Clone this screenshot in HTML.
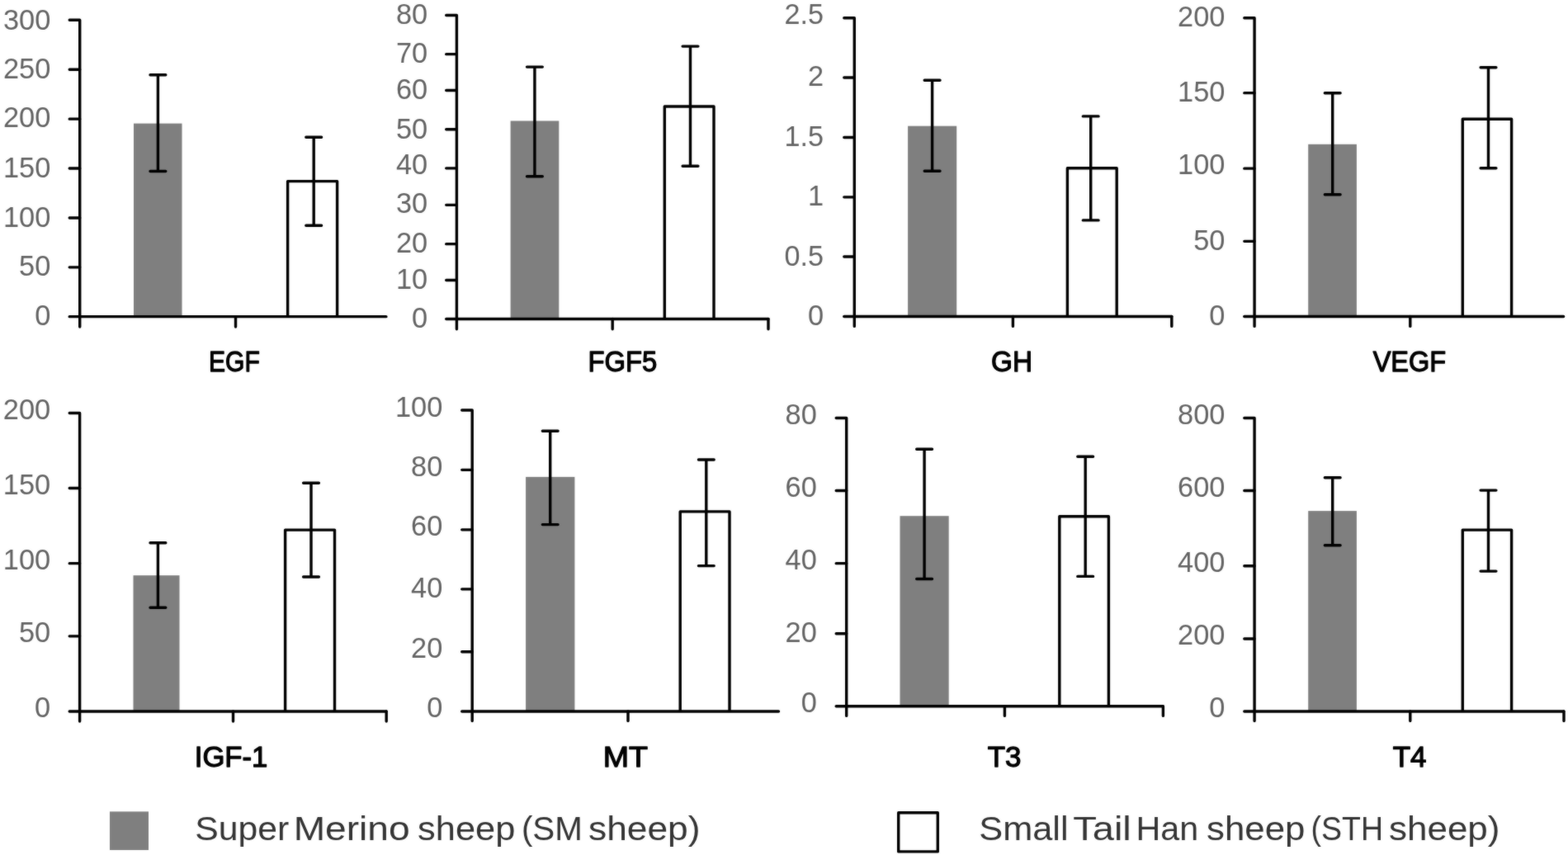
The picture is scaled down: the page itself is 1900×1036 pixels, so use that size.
<!DOCTYPE html>
<html lang="en"><head><meta charset="utf-8"><title>Serum hormone and growth factor levels in SM and STH sheep</title>
<style>
html,body{margin:0;padding:0;background:#fff;}
body{width:1900px;height:1036px;overflow:hidden;}
svg{display:block;}
text{font-family:"Liberation Sans",Arial,Helvetica,sans-serif;}
.ax{stroke:#000;stroke-width:3.4;fill:none;stroke-linecap:round;stroke-linejoin:round;}
.eb{stroke:#000;stroke-width:3.4;fill:none;stroke-linecap:round;}
.gb{fill:#7f7f7f;}
.wb{fill:#fff;stroke:#000;stroke-width:3.4;stroke-linejoin:round;}
.tl{font-size:35.5px;fill:#636363;text-anchor:end;}
.tt{font-size:35.4px;font-weight:normal;fill:#000;stroke:#000;stroke-width:1.3px;stroke-linejoin:round;}
.lg{font-size:40.5px;fill:#333333;}
</style></head><body>
<svg width="1900" height="1036" viewBox="0 0 1900 1036">
<defs><filter id="soft" x="0" y="0" width="1900" height="1036" filterUnits="userSpaceOnUse" color-interpolation-filters="sRGB"><feGaussianBlur stdDeviation="0.9" result="b"/><feComposite in="SourceGraphic" in2="b" operator="arithmetic" k1="0" k2="0.65" k3="0.35" k4="0"/></filter></defs>
<rect x="0" y="0" width="1900" height="1036" fill="#fff"/>
<g filter="url(#soft)">
<rect x="-10" y="-10" width="1920" height="1056" fill="#fff"/>
<g>
<rect class="gb" x="162" y="149.6" width="58.5" height="234.05"/>
<path class="wb" d="M348.6 383.65V219.6H408.6V383.65"/>
<path class="ax" d="M84.2 24.25H96.7V396"/>
<path class="ax" d="M84.2 383.65H467.9"/>
<path class="ax" d="M84.2 323.85H96.7M84.2 263.95H96.7M84.2 204.05H96.7M84.2 144.15H96.7M84.2 84.25H96.7"/>
<path class="ax" d="M285.5 383.65V396"/>
<path class="eb" d="M191.4 90.7V207.5M182 90.7H200.8M182 207.5H200.8"/>
<path class="eb" d="M380.2 166.3V273.3M370.8 166.3H389.6M370.8 273.3H389.6"/>
<text class="tl" x="61.3" y="393.6" textLength="19.1" lengthAdjust="spacingAndGlyphs">0</text>
<text class="tl" x="61.3" y="334.2" textLength="38.2" lengthAdjust="spacingAndGlyphs">50</text>
<text class="tl" x="61.3" y="274.6" textLength="57.3" lengthAdjust="spacingAndGlyphs">100</text>
<text class="tl" x="61.3" y="215.1" textLength="57.3" lengthAdjust="spacingAndGlyphs">150</text>
<text class="tl" x="61.3" y="154.4" textLength="57.3" lengthAdjust="spacingAndGlyphs">200</text>
<text class="tl" x="61.3" y="95.2" textLength="57.3" lengthAdjust="spacingAndGlyphs">250</text>
<text class="tl" x="61.3" y="35.8" textLength="57.3" lengthAdjust="spacingAndGlyphs">300</text>
<text class="tt" x="252.99" y="450.3" textLength="61.76" lengthAdjust="spacingAndGlyphs">EGF</text>
</g>
<g>
<rect class="gb" x="618.6" y="146.5" width="58.7" height="240.05"/>
<path class="wb" d="M805.3 386.55V129H865V386.55"/>
<path class="ax" d="M540.7 18.55H553.4V398.8"/>
<path class="ax" d="M540.7 386.55H931"/>
<path class="ax" d="M540.7 339.55H553.4M540.7 295.65H553.4M540.7 248.35H553.4M540.7 203.85H553.4M540.7 156.75H553.4M540.7 109.55H553.4M540.7 65.65H553.4"/>
<path class="ax" d="M742.2 386.55V398.8M931 386.55V398.8"/>
<path class="eb" d="M647.9 81.1V213.7M638.5 81.1H657.3M638.5 213.7H657.3"/>
<path class="eb" d="M836.5 56.1V201.2M827.1 56.1H845.9M827.1 201.2H845.9"/>
<text class="tl" x="518.1" y="397.1" textLength="19.1" lengthAdjust="spacingAndGlyphs">0</text>
<text class="tl" x="518.1" y="350.1" textLength="38.2" lengthAdjust="spacingAndGlyphs">10</text>
<text class="tl" x="518.1" y="305.9" textLength="38.2" lengthAdjust="spacingAndGlyphs">20</text>
<text class="tl" x="518.1" y="258" textLength="38.2" lengthAdjust="spacingAndGlyphs">30</text>
<text class="tl" x="518.1" y="211.3" textLength="38.2" lengthAdjust="spacingAndGlyphs">40</text>
<text class="tl" x="518.1" y="167.7" textLength="38.2" lengthAdjust="spacingAndGlyphs">50</text>
<text class="tl" x="518.1" y="119.8" textLength="38.2" lengthAdjust="spacingAndGlyphs">60</text>
<text class="tl" x="518.1" y="76.2" textLength="38.2" lengthAdjust="spacingAndGlyphs">70</text>
<text class="tl" x="518.1" y="28.85" textLength="38.2" lengthAdjust="spacingAndGlyphs">80</text>
<text class="tt" x="712.52" y="450.3" textLength="83.77" lengthAdjust="spacingAndGlyphs">FGF5</text>
</g>
<g>
<rect class="gb" x="1100.1" y="152.7" width="59.1" height="230.85"/>
<path class="wb" d="M1293.4 383.55V203.7H1353.2V383.55"/>
<path class="ax" d="M1022.8 21.75H1035.3V395.4"/>
<path class="ax" d="M1022.8 383.55H1419.8"/>
<path class="ax" d="M1022.8 311.05H1035.3M1022.8 238.85H1035.3M1022.8 166.5H1035.3M1022.8 93.95H1035.3"/>
<path class="ax" d="M1227.4 383.55V395.4M1419.8 383.55V395.4"/>
<path class="eb" d="M1129.6 97.2V207.3M1120.2 97.2H1139M1120.2 207.3H1139"/>
<path class="eb" d="M1321.7 140.9V266.9M1312.3 140.9H1331.1M1312.3 266.9H1331.1"/>
<text class="tl" x="998.1" y="393.6" textLength="19.1" lengthAdjust="spacingAndGlyphs">0</text>
<text class="tl" x="998.1" y="321.6" textLength="47.5" lengthAdjust="spacingAndGlyphs">0.5</text>
<text class="tl" x="998.1" y="249.2" textLength="19.1" lengthAdjust="spacingAndGlyphs">1</text>
<text class="tl" x="998.1" y="177.2" textLength="47.5" lengthAdjust="spacingAndGlyphs">1.5</text>
<text class="tl" x="998.1" y="104.4" textLength="19.1" lengthAdjust="spacingAndGlyphs">2</text>
<text class="tl" x="998.1" y="29.1" textLength="47.5" lengthAdjust="spacingAndGlyphs">2.5</text>
<text class="tt" x="1201.02" y="450.3" textLength="49.98" lengthAdjust="spacingAndGlyphs">GH</text>
</g>
<g>
<rect class="gb" x="1585.2" y="174.8" width="58.7" height="208.75"/>
<path class="wb" d="M1772.3 383.55V144.3H1831.6V383.55"/>
<path class="ax" d="M1507.8 21.75H1520.1V395.4"/>
<path class="ax" d="M1507.8 383.55H1894.6"/>
<path class="ax" d="M1507.8 292.35H1520.1M1507.8 204.15H1520.1M1507.8 112.65H1520.1"/>
<path class="ax" d="M1708.8 383.55V395.4"/>
<path class="eb" d="M1614.7 112.7V235.8M1605.3 112.7H1624.1M1605.3 235.8H1624.1"/>
<path class="eb" d="M1803.5 81.7V203.7M1794.1 81.7H1812.9M1794.1 203.7H1812.9"/>
<text class="tl" x="1484.4" y="393.6" textLength="19.1" lengthAdjust="spacingAndGlyphs">0</text>
<text class="tl" x="1484.4" y="302.9" textLength="38.2" lengthAdjust="spacingAndGlyphs">50</text>
<text class="tl" x="1484.4" y="211.3" textLength="57.3" lengthAdjust="spacingAndGlyphs">100</text>
<text class="tl" x="1484.4" y="123" textLength="57.3" lengthAdjust="spacingAndGlyphs">150</text>
<text class="tl" x="1484.4" y="32" textLength="57.3" lengthAdjust="spacingAndGlyphs">200</text>
<text class="tt" x="1663.66" y="450.3" textLength="88.43" lengthAdjust="spacingAndGlyphs">VEGF</text>
</g>
<g>
<rect class="gb" x="161.5" y="697.2" width="56" height="164.85"/>
<path class="wb" d="M345.6 862.05V642.1H405.5V862.05"/>
<path class="ax" d="M84.2 500.45H96.6V874"/>
<path class="ax" d="M84.2 862.05H468"/>
<path class="ax" d="M84.2 770.85H96.6M84.2 682.65H96.6M84.2 591.45H96.6"/>
<path class="ax" d="M282.5 862.05V874M468.2 862.05V874"/>
<path class="eb" d="M191.4 657.7V736.2M182 657.7H200.8M182 736.2H200.8"/>
<path class="eb" d="M377 585.3V699M367.6 585.3H386.4M367.6 699H386.4"/>
<text class="tl" x="61.1" y="869.2" textLength="19.1" lengthAdjust="spacingAndGlyphs">0</text>
<text class="tl" x="61.1" y="778.2" textLength="38.2" lengthAdjust="spacingAndGlyphs">50</text>
<text class="tl" x="61.1" y="690" textLength="57.3" lengthAdjust="spacingAndGlyphs">100</text>
<text class="tl" x="61.1" y="598.5" textLength="57.3" lengthAdjust="spacingAndGlyphs">150</text>
<text class="tl" x="61.1" y="507.6" textLength="57.3" lengthAdjust="spacingAndGlyphs">200</text>
<text class="tt" x="235.75" y="928.8" textLength="88.63" lengthAdjust="spacingAndGlyphs">IGF-1</text>
</g>
<g>
<rect class="gb" x="637.1" y="577.9" width="59.3" height="284.15"/>
<path class="wb" d="M824.2 862.05V619.9H884V862.05"/>
<path class="ax" d="M559.7 496.95H572.2V873.6"/>
<path class="ax" d="M559.7 862.05H943.5"/>
<path class="ax" d="M559.7 789.75H572.2M559.7 713.85H572.2M559.7 641.85H572.2M559.7 569.35H572.2"/>
<path class="ax" d="M761 862.05V873.6"/>
<path class="eb" d="M666.7 522.3V635.6M657.3 522.3H676.1M657.3 635.6H676.1"/>
<path class="eb" d="M855.8 557V685.6M846.4 557H865.2M846.4 685.6H865.2"/>
<text class="tl" x="536.3" y="869.2" textLength="19.1" lengthAdjust="spacingAndGlyphs">0</text>
<text class="tl" x="536.3" y="797.2" textLength="38.2" lengthAdjust="spacingAndGlyphs">20</text>
<text class="tl" x="536.3" y="724.2" textLength="38.2" lengthAdjust="spacingAndGlyphs">40</text>
<text class="tl" x="536.3" y="649" textLength="38.2" lengthAdjust="spacingAndGlyphs">60</text>
<text class="tl" x="536.3" y="576.5" textLength="38.2" lengthAdjust="spacingAndGlyphs">80</text>
<text class="tl" x="536.3" y="504.5" textLength="57.3" lengthAdjust="spacingAndGlyphs">100</text>
<text class="tt" x="730.71" y="928.8" textLength="54.31" lengthAdjust="spacingAndGlyphs">MT</text>
</g>
<g>
<rect class="gb" x="1090.5" y="625.2" width="59.2" height="230.55"/>
<path class="wb" d="M1283.8 855.75V625.7H1343.4V855.75"/>
<path class="ax" d="M1013.2 506.55H1025.7V867.4"/>
<path class="ax" d="M1013.2 855.75H1409"/>
<path class="ax" d="M1013.2 767.75H1025.7M1013.2 682.65H1025.7M1013.2 594.55H1025.7"/>
<path class="ax" d="M1217.4 855.75V867.4M1409.4 855.75V867.4"/>
<path class="eb" d="M1120.1 544.3V701.5M1110.7 544.3H1129.5M1110.7 701.5H1129.5"/>
<path class="eb" d="M1315.2 553.2V698.4M1305.8 553.2H1324.6M1305.8 698.4H1324.6"/>
<text class="tl" x="989.8" y="862.9" textLength="19.1" lengthAdjust="spacingAndGlyphs">0</text>
<text class="tl" x="989.8" y="778.3" textLength="38.2" lengthAdjust="spacingAndGlyphs">20</text>
<text class="tl" x="989.8" y="690" textLength="38.2" lengthAdjust="spacingAndGlyphs">40</text>
<text class="tl" x="989.8" y="601.7" textLength="38.2" lengthAdjust="spacingAndGlyphs">60</text>
<text class="tl" x="989.8" y="513.9" textLength="38.2" lengthAdjust="spacingAndGlyphs">80</text>
<text class="tt" x="1196.65" y="928.8" textLength="40.75" lengthAdjust="spacingAndGlyphs">T3</text>
</g>
<g>
<rect class="gb" x="1585.2" y="619.1" width="58.7" height="242.95"/>
<path class="wb" d="M1772.3 862.05V642.1H1831.6V862.05"/>
<path class="ax" d="M1507.8 506.55H1520.1V873.6"/>
<path class="ax" d="M1507.8 862.05H1894.8"/>
<path class="ax" d="M1507.8 773.95H1520.1M1507.8 685.75H1520.1M1507.8 594.55H1520.1"/>
<path class="ax" d="M1708.8 862.05V873.6M1895 862.05V873.6"/>
<path class="eb" d="M1614.7 578.8V660.8M1605.3 578.8H1624.1M1605.3 660.8H1624.1"/>
<path class="eb" d="M1803.5 594.1V692.1M1794.1 594.1H1812.9M1794.1 692.1H1812.9"/>
<text class="tl" x="1484.4" y="869.2" textLength="19.1" lengthAdjust="spacingAndGlyphs">0</text>
<text class="tl" x="1484.4" y="781.4" textLength="57.3" lengthAdjust="spacingAndGlyphs">200</text>
<text class="tl" x="1484.4" y="693.2" textLength="57.3" lengthAdjust="spacingAndGlyphs">400</text>
<text class="tl" x="1484.4" y="601.7" textLength="57.3" lengthAdjust="spacingAndGlyphs">600</text>
<text class="tl" x="1484.4" y="513.9" textLength="57.3" lengthAdjust="spacingAndGlyphs">800</text>
<text class="tt" x="1687.65" y="928.8" textLength="40.75" lengthAdjust="spacingAndGlyphs">T4</text>
</g>
<g>
<rect class="gb" x="133" y="983.4" width="47" height="46.6"/>
<text class="lg" y="1017.6"><tspan x="236.29" textLength="113.92" lengthAdjust="spacingAndGlyphs">Super</tspan> <tspan x="355.7" textLength="140.95" lengthAdjust="spacingAndGlyphs">Merino</tspan> <tspan x="506.06" textLength="118.26" lengthAdjust="spacingAndGlyphs">sheep</tspan> <tspan x="631.91" textLength="73.92" lengthAdjust="spacingAndGlyphs">(SM</tspan> <tspan x="713.03" textLength="135.4" lengthAdjust="spacingAndGlyphs">sheep)</tspan></text>
<rect class="wb" x="1088.7" y="984.7" width="47.6" height="47.2"/>
<text class="lg" y="1017.6"><tspan x="1186.26" textLength="108.31" lengthAdjust="spacingAndGlyphs">Small</tspan> <tspan x="1300.24" textLength="70.59" lengthAdjust="spacingAndGlyphs">Tail</tspan> <tspan x="1376.59" textLength="75.6" lengthAdjust="spacingAndGlyphs">Han</tspan> <tspan x="1462.05" textLength="119.29" lengthAdjust="spacingAndGlyphs">sheep</tspan> <tspan x="1588.58" textLength="87.53" lengthAdjust="spacingAndGlyphs">(STH</tspan> <tspan x="1683.04" textLength="134.37" lengthAdjust="spacingAndGlyphs">sheep)</tspan></text>
</g>
</g>
</svg></body></html>
